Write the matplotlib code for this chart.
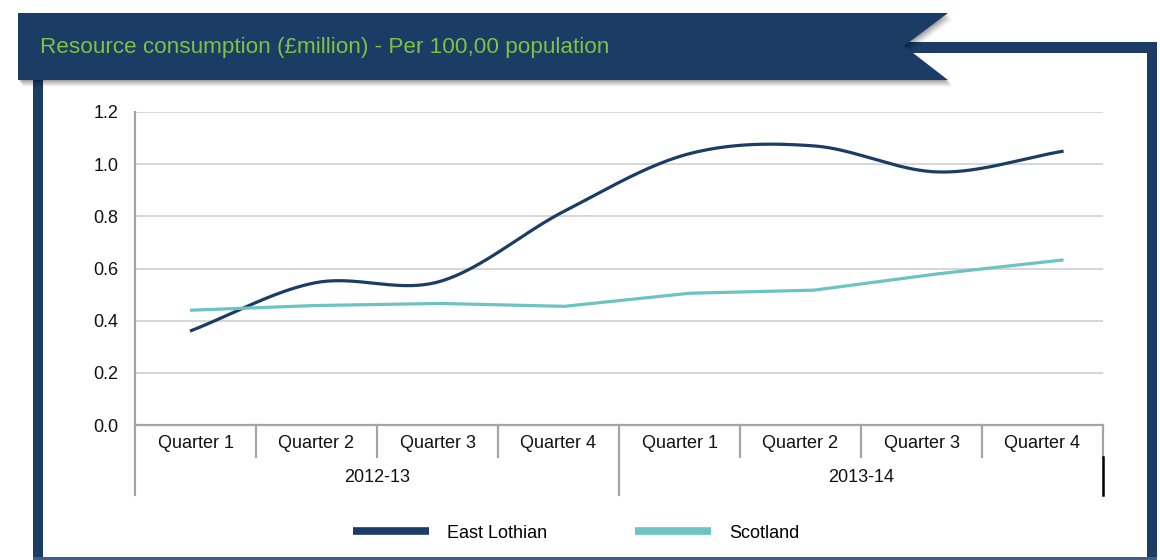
import numpy as np
import matplotlib
matplotlib.use("Agg")
import matplotlib.pyplot as plt
from matplotlib.patches import Polygon, Rectangle

plt.rcParams['font.family'] = ['Liberation Sans Narrow', 'Liberation Sans', 'DejaVu Sans']

# data
quarters = ['Quarter 1', 'Quarter 2', 'Quarter 3', 'Quarter 4'] * 2
years = ['2012-13', '2013-14']
east_lothian = [0.36, 0.545, 0.55, 0.82, 1.04, 1.07, 0.97, 1.05]
scotland = [0.44, 0.458, 0.466, 0.455, 0.505, 0.517, 0.58, 0.633]
yticks = [0.0, 0.2, 0.4, 0.6, 0.8, 1.0, 1.2]

NAVY = '#1b3c65'
TEAL = '#6cc4c2'
GREEN = '#7cc243'
GRID = '#cfcfcf'
AXIS = '#a5a5a5'
FS = 13

W, H = 1160, 560


def smooth(vals, n=40):
    # Catmull-Rom through the points, like a spreadsheet "smoothed line"
    p = np.asarray(vals, float)
    p = np.concatenate([[2 * p[0] - p[1]], p, [2 * p[-1] - p[-2]]])
    xs, ys = [], []
    for i in range(1, len(p) - 2):
        t = np.linspace(0, 1, n, endpoint=False)
        p0, p1, p2, p3 = p[i - 1], p[i], p[i + 1], p[i + 2]
        y = 0.5 * ((2 * p1) + (-p0 + p2) * t + (2 * p0 - 5 * p1 + 4 * p2 - p3) * t ** 2
                   + (-p0 + 3 * p1 - 3 * p2 + p3) * t ** 3)
        xs.append(i - 1 + t)
        ys.append(y)
    xs.append([len(vals) - 1])
    ys.append([vals[-1]])
    return np.concatenate(xs), np.concatenate(ys)


fig = plt.figure(figsize=(W / 100, H / 100), dpi=100)
fig.patch.set_facecolor('white')

# decoration layer in pixel coordinates
deco = fig.add_axes([0, 0, 1, 1])
deco.set_xlim(0, W)
deco.set_ylim(H, 0)
deco.axis('off')

# frame
deco.add_patch(Rectangle((33, 60), 10, 500, color=NAVY, lw=0))
deco.add_patch(Rectangle((900, 42), 257, 11, color=NAVY, lw=0))
deco.add_patch(Rectangle((1147, 42), 10, 518, color=NAVY, lw=0))
deco.add_patch(Rectangle((33, 557), 1124, 3, color='#3f5f86', lw=0))

# banner with soft shadow
banner = np.array([(18, 13), (948, 13), (904, 46), (948, 80), (18, 80)])
for k, a in zip(range(7, 0, -1), [0.03, 0.04, 0.05, 0.06, 0.07, 0.08, 0.09]):
    deco.add_patch(Polygon(banner + [k * 0.7, k], closed=True, color='black', alpha=a, lw=0))
deco.add_patch(Polygon(banner, closed=True, color=NAVY, lw=0))
deco.text(40, 47, 'Resource consumption (£million) - Per 100,00 population',
          color=GREEN, fontsize=16.2, va='center', ha='left')

# chart
left, right, top, bottom = 135, 1103, 112, 425
ax = fig.add_axes([left / W, (H - bottom) / H, (right - left) / W, (bottom - top) / H])
ax.set_facecolor('none')

x0_px, step_px = 190, 124.8
ax.set_xlim((left - x0_px) / step_px, (right - x0_px) / step_px)
ax.set_ylim(0, 1.2)

ax.set_yticks(yticks)
ax.set_yticklabels([f'{v:.1f}' for v in yticks])
ax.tick_params(axis='y', length=0, pad=12, labelsize=FS, colors='#111111')
ax.set_xticks([])
ax.grid(axis='y', color=GRID, lw=1.2)
ax.set_axisbelow(True)
for s in ['top', 'right']:
    ax.spines[s].set_visible(False)
for s in ['left', 'bottom']:
    ax.spines[s].set_color(AXIS)
    ax.spines[s].set_linewidth(1.6)

xe, ye = smooth(east_lothian)
ax.plot(xe, ye, color=NAVY, lw=2.3, label='East Lothian', solid_capstyle='butt')
ax.plot(range(len(scotland)), scotland, color=TEAL, lw=2.3, label='Scotland',
        solid_capstyle='butt', solid_joinstyle='round')

# category table under the plot (axes fraction in x)
h = bottom - top
row1 = -(457 - bottom) / h
row2 = -(495 - bottom) / h
n = len(quarters)
for i, q in enumerate(quarters):
    ax.text((i + 0.5) / n, -(443 - bottom) / h, q, transform=ax.transAxes,
            ha='center', va='center', fontsize=FS, color='#111111', clip_on=False)
for k in range(1, n):
    y_end = row2 if k == n // 2 else row1
    ax.plot([k / n, k / n], [0, y_end], transform=ax.transAxes, color=AXIS,
            lw=1.6, clip_on=False)
ax.plot([0, 0], [0, row2], transform=ax.transAxes, color=AXIS, lw=1.6, clip_on=False)
ax.plot([1, 1], [0, row1], transform=ax.transAxes, color=AXIS, lw=1.6, clip_on=False)
ax.plot([1, 1], [row1, row2], transform=ax.transAxes, color='black', lw=1.8, clip_on=False)
for j, yr in enumerate(years):
    ax.text((j + 0.5) / 2, -(478 - bottom) / h, yr, transform=ax.transAxes,
            ha='center', va='center', fontsize=FS, color='#111111', clip_on=False)

leg = ax.legend(loc='center', bbox_to_anchor=(576 / W, (H - 533) / H),
                bbox_transform=fig.transFigure, ncol=2, frameon=False,
                fontsize=FS, handlelength=4.2, handletextpad=1.0,
                columnspacing=4.9)
for line in leg.get_lines():
    line.set_linewidth(5.5)

fig.savefig('out.png', dpi=100, facecolor='white')
